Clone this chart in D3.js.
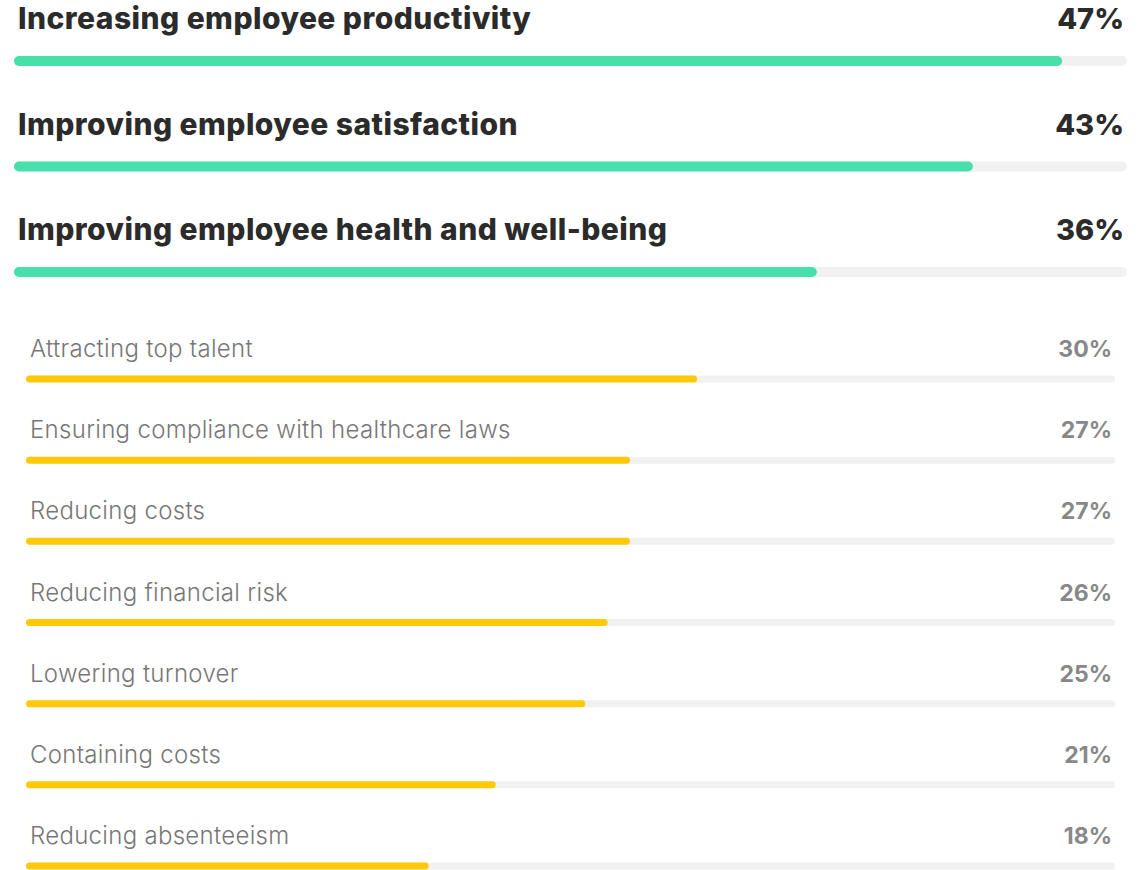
<!DOCTYPE html>
<meta charset="utf-8">
<style>
body { margin: 0; background: #fff; }
svg { font-family: Inter, "Liberation Sans", sans-serif; }
.top-label { font-weight: 800; fill: #2b2b2b; }
.low-label { font-weight: 300; fill: #777; }
.low-pct { font-weight: 700; fill: #888; }
</style>
<body>
<svg id="chart" width="1142" height="870"></svg>
</body>
<script src="https://d3js.org/d3.v7.min.js"></script>
<script>

// top three reasons (big rows)
var topNames = ["Increasing employee productivity", "Improving employee satisfaction", "Improving employee health and well-being"];
var topValues = [47, 43, 36];

// the rest (small rows)
var lowNames = ["Attracting top talent", "Ensuring compliance with healthcare laws", "Reducing costs",
  "Reducing financial risk", "Lowering turnover", "Containing costs", "Reducing absenteeism"];
var lowValues = [30, 27, 27, 26, 25, 21, 18];

var svg = d3.select("#chart");

// two blocks, slightly different scales like the original
var xTop = d3.scaleLinear().domain([0, 50]).range([14, 1129]);
var xLow = d3.scaleLinear().domain([0, 50]).range([26, 1144.5]);

var yTop = d3.scalePoint().domain(topNames).range([61, 272]);
var yLow = d3.scalePoint().domain(lowNames).range([379, 866]);

var topG = svg.append("g");

// tracks
topG.selectAll(".track")
    .data(topNames)
  .enter().append("rect")
    .attr("class", "track")
    .attr("x", xTop(0))
    .attr("y", function(d) { return yTop(d) - 5; })
    .attr("width", 1127 - xTop(0))
    .attr("height", 10)
    .attr("rx", 5)
    .style("fill", "#f1f1f1");

topG.selectAll(".bar")
    .data(topValues)
  .enter().append("rect")
    .attr("class", "bar")
    .attr("x", xTop(0))
    .attr("y", function(d, i) { return yTop(topNames[i]) - 5; })
    .attr("width", function(d) { return xTop(d) - xTop(0); })
    .attr("height", 10)
    .attr("rx", 5)
    .style("fill", "#47dfaa");

topG.selectAll(".top-label")
    .data(topNames)
  .enter().append("text")
    .attr("class", "top-label")
    .attr("x", 18)
    .attr("y", function(d) { return yTop(d) - 32; })
    .style("font-size", "30px")
    .style("letter-spacing", "0.45px")
    .text(function(d) { return d; });

topG.selectAll(".top-pct")
    .data(topValues)
  .enter().append("text")
    .attr("class", "top-label")
    .attr("x", 1124)
    .attr("y", function(d, i) { return yTop(topNames[i]) - 32; })
    .attr("text-anchor", "end")
    .style("font-size", "29px")
    .text(function(d) { return d + "%"; });

var lowG = svg.append("g");

lowG.selectAll(".track")
    .data(lowNames)
  .enter().append("rect")
    .attr("class", "track")
    .attr("x", xLow(0))
    .attr("y", function(d) { return yLow(d) - 3.5; })
    .attr("width", 1115 - xLow(0))
    .attr("height", 7)
    .attr("rx", 3.5)
    .style("fill", "#f1f1f1");

lowG.selectAll(".bar")
    .data(lowValues)
  .enter().append("rect")
    .attr("class", "bar")
    .attr("x", xLow(0))
    .attr("y", function(d, i) { return yLow(lowNames[i]) - 3.5; })
    .attr("width", function(d) { return xLow(d) - xLow(0); })
    .attr("height", 7)
    .attr("rx", 3.5)
    .style("fill", "#ffc907");

lowG.selectAll(".low-label")
    .data(lowNames)
  .enter().append("text")
    .attr("class", "low-label")
    .attr("x", 30)
    .attr("y", function(d) { return yLow(d) - 22; })
    .style("font-size", "24px")
    .style("letter-spacing", "0.3px")
    .text(function(d) { return d; });

lowG.selectAll(".low-pct")
    .data(lowValues)
  .enter().append("text")
    .attr("class", "low-pct")
    .attr("x", 1112)
    .attr("y", function(d, i) { return yLow(lowNames[i]) - 22; })
    .attr("text-anchor", "end")
    .style("font-size", "23px")
    .text(function(d) { return d + "%"; });

</script>
